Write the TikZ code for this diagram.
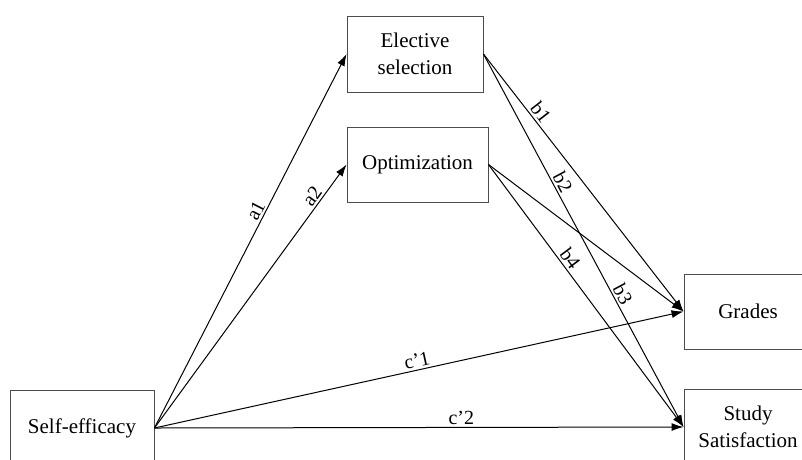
\documentclass[tikz,border=0pt]{standalone}
\usepackage{fontspec}
\setmainfont{Liberation Serif}
\usetikzlibrary{arrows.meta}
\begin{document}
\begin{tikzpicture}[x=1pt,y=-1pt,
  box/.style={draw=black!70, line width=0.9pt, rectangle, inner sep=0pt,
    minimum height=76pt, align=center, font=\fontsize{21}{27.5}\selectfont},
  conn/.style={draw=black, line width=1pt, -{Latex[length=12pt,width=8pt]}},
  lab/.style={font=\fontsize{20}{24}\selectfont, sloped, above, inner sep=2pt}]
\useasboundingbox (0,0) rectangle (802,459);
\clip (0,0) rectangle (802,459);
\fill[white] (0,0) rectangle (802,459);
\node[box, minimum width=144pt] (se) at (82,428) {Self-efficacy};
\node[box, minimum width=136pt] (el) at (415,54) {Elective\\selection};
\node[box, minimum width=141pt, minimum height=75pt] (op) at (417.5,164.5) {Optimization};
\node[box, minimum width=128pt, minimum height=75pt] (gr) at (748,311.5) {Grades};
\node[box, minimum width=128pt] (ss) at (748,427) {Study\\Satisfaction};
\draw[conn] (se.east) -- node[lab, pos=0.57] {a1} (el.west);
\draw[conn] (se.east) -- node[lab, pos=0.86] {a2} (op.west);
\draw[conn] (se.east) -- node[lab, pos=0.5] {c’1} (gr.west);
\draw[conn] (se.east) -- node[lab, pos=0.58] {c’2} (ss.west);
\draw[conn] (el.east) -- node[lab, pos=0.25] {b1} (gr.west);
\draw[conn] (el.east) -- node[lab, pos=0.355] {b2} node[lab, pos=0.655] {b3} (ss.west);
\draw[conn] (op.east) -- (gr.west);
\draw[conn] (op.east) -- node[lab, pos=0.38] {b4} (ss.west);
\end{tikzpicture}
\end{document}
